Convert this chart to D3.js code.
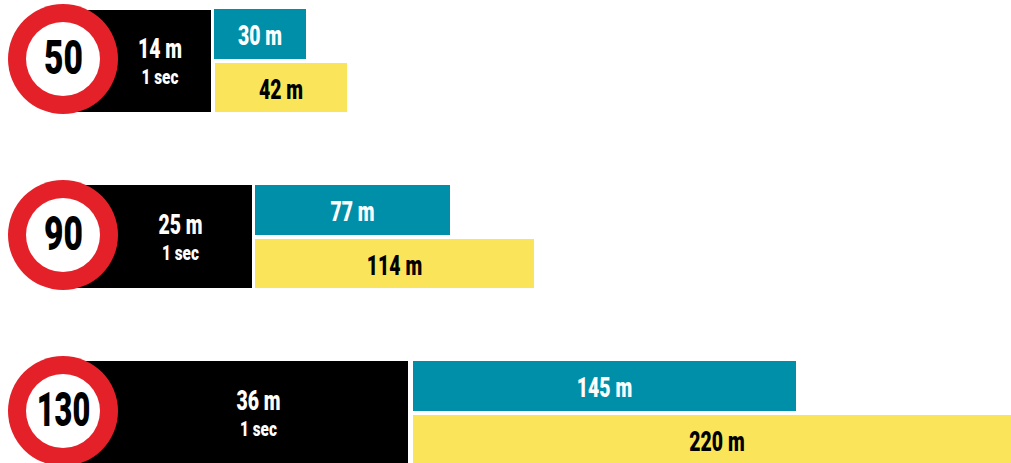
<!DOCTYPE html>
<html>
<head>
<meta charset="utf-8">
<script src="https://cdn.jsdelivr.net/npm/d3@7"></script>
<style>
html, body { margin: 0; padding: 0; background: #fff; overflow: hidden; }
text { font-family: "Roboto", sans-serif; font-weight: 900; text-anchor: middle; }
</style>
</head>
<body>
<div id="chart"></div>
<script>
var speeds = [50, 90, 130];
var reactionMetres = [14, 25, 36];
var reactionSeconds = [1, 1, 1];
var brakingMetres = [30, 77, 145];
var stoppingMetres = [42, 114, 220];

var width = 1011, height = 463;
var teal = "#008fa9", yellow = "#fae55a", red = "#e42129";

// the bars in the original are not to one linear scale, so both scales are piecewise
var reactionEnd = d3.scaleLinear().domain([14, 25, 36]).range([211, 252, 408]);
var barStart = d3.scaleLinear().domain([14, 25, 36]).range([214, 255, 413]);
var barLength = d3.scaleLinear()
    .domain([0, 30, 42, 77, 114, 145, 220])
    .range([0, 92, 132, 195, 279, 383, 608]);
var rowY = d3.scalePoint().domain(speeds).range([59, 411]);

var svg = d3.select("#chart").append("svg")
    .attr("width", width)
    .attr("height", height)
    .style("display", "block");

var rows = svg.selectAll("g.row")
    .data(speeds.map(function (s, i) {
        return {
            speed: s,
            reaction: reactionMetres[i],
            seconds: reactionSeconds[i],
            braking: brakingMetres[i],
            stopping: stoppingMetres[i]
        };
    }))
    .enter().append("g")
    .attr("class", "row");

//no condensed font is installed, so Roboto is squeezed horizontally
function label(sel, size, fill, x, y, txt, squeeze) {
    sel.append("text")
        .attr("transform", "translate(" + x + "," + y + ") scale(" + squeeze + ",1)")
        .attr("dy", "0.36em")
        .attr("font-size", size)
        .attr("fill", fill)
        .text(txt);
}

rows.each(function (d, i) {
    var g = d3.select(this);
    var cy = rowY(d.speed);
    var end = reactionEnd(d.reaction);
    var start = barStart(d.reaction);
    var first = i === 0 ? 1 : 0;

    //black reaction bar runs behind the sign
    g.append("rect").attr("x", 63).attr("y", cy - 50 + first).attr("width", end - 63).attr("height", 103 - first).attr("fill", "#000");
    g.append("rect").attr("x", start).attr("y", cy - 50).attr("width", barLength(d.braking)).attr("height", 50).attr("fill", teal);
    g.append("rect").attr("x", start + first).attr("y", cy + 4).attr("width", barLength(d.stopping)).attr("height", 49).attr("fill", yellow);

    g.append("circle").attr("cx", 63).attr("cy", cy).attr("r", 55).attr("fill", red);
    g.append("circle").attr("cx", 63).attr("cy", cy).attr("r", 37).attr("fill", "#fff");

    label(g, 48, "#000", 63.5, cy - 2, d.speed, d.speed > 99 ? 0.64 : 0.7);
    label(g, 27, "#fff", (109 + end) / 2, cy - 10.5, d.reaction + " m", 0.72);
    label(g, 21, "#fff", (109 + end) / 2, cy + 17.5, d.seconds + " sec", 0.73);
    label(g, 27, "#fff", start + barLength(d.braking) / 2, cy - 23.5, d.braking + " m", 0.72);
    label(g, 27, "#000", start + first + barLength(d.stopping) / 2, cy + 30.5, d.stopping + " m", 0.72);
});
</script>
</body>
</html>
